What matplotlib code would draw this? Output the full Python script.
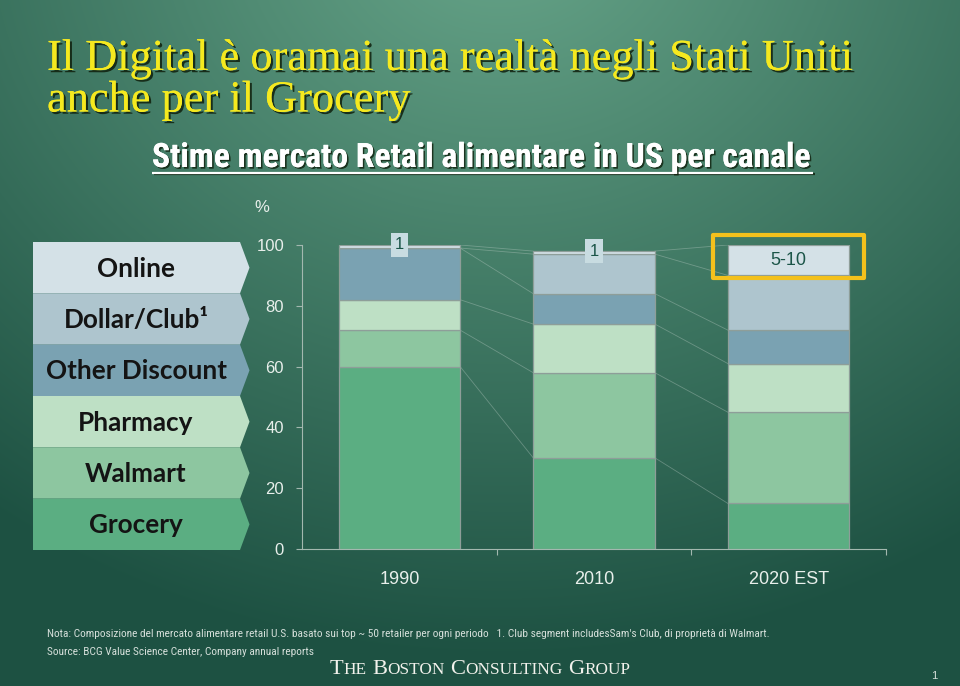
import numpy as np
import matplotlib
matplotlib.use('Agg')
import matplotlib.pyplot as plt
from matplotlib.patches import Polygon, Rectangle
import matplotlib.patheffects as pe

plt.rcParams['font.family'] = ['Liberation Sans', 'DejaVu Sans']

# ---------------- data ----------------
years = ['1990', '2010', '2020 EST']
grocery = [60, 30, 15]
walmart = [12, 28, 30]
pharmacy = [10, 16, 16]
other_discount = [17, 10, 11]
dollar_club = [0, 13, 18]
online = [1, 1, 10]
online_labels = ['1', '1', '5-10']
yticks = [0, 20, 40, 60, 80, 100]
legend_labels = ['Online', 'Dollar/Club¹', 'Other Discount', 'Pharmacy', 'Walmart', 'Grocery']

title_lines = ['Il Digital è oramai una realtà negli Stati Uniti', 'anche per il Grocery']
subtitle = 'Stime mercato Retail alimentare in US per canale'
note = ("Nota: Composizione del mercato alimentare retail U.S. basato sui top ~ 50 retailer per ogni periodo   "
        "1. Club segment includesSam's Club, di proprietà di Walmart.")
source = 'Source: BCG Value Science Center, Company annual reports'
logo_words = ['THE', 'BOSTON', 'CONSULTING', 'GROUP']

series = [grocery, walmart, pharmacy, other_discount, dollar_club, online]
seg_colors = ['#5BAE82', '#8DC6A0', '#BEE0C5', '#7AA2B2', '#AEC5CE', '#D4E1E7']
legend_colors = seg_colors[::-1]

W, H = 960, 686
fig = plt.figure(figsize=(9.6, 6.86), dpi=100)
R = fig.canvas.get_renderer()
COND = ['Liberation Sans Narrow', 'Roboto Condensed', 'Open Sans']


def fit(t, target):
    bb = t.get_window_extent(renderer=R)
    t.set_fontsize(t.get_fontsize() * target / bb.width)


# ---------------- background ----------------
bg = fig.add_axes([0, 0, 1, 1], zorder=0)
bg.set_xlim(0, W)
bg.set_ylim(H, 0)
bg.axis('off')
yy, xx = np.mgrid[0:H, 0:W]
d = np.sqrt((xx - 500.0) ** 2 + ((yy + 80.0) * 1.15) ** 2)
tt = np.clip(d / 850.0, 0, 1)[..., None]
c_light = np.array([0x68, 0xA6, 0x8A]) / 255
c_dark = np.array([0x1D, 0x51, 0x42]) / 255
img = c_light * (1 - tt) + c_dark * tt
bg.imshow(img, extent=(0, W, H, 0), aspect='auto', interpolation='bilinear', zorder=0)

# legend arrows
row_top, row_bot = 242.0, 550.0
rh = (row_bot - row_top) / len(legend_labels)
x_l, x_b, x_tip = 33, 240, 249.5
leg_texts = []
for k, (lab, col) in enumerate(zip(legend_labels, legend_colors)):
    y0 = row_top + k * rh
    y1 = y0 + rh
    bg.add_patch(Polygon([(x_l, y0), (x_b, y0), (x_tip, (y0 + y1) / 2), (x_b, y1), (x_l, y1)],
                         closed=True, fc=col, ec='none', zorder=2))
    leg_texts.append(bg.text(136, (y0 + y1) / 2 + 1, lab, family=['Lato', 'DejaVu Sans'],
                             weight='bold', fontsize=14, color='#141414', ha='center',
                             va='center', zorder=3))
fit(leg_texts[2], 182)
for t in leg_texts:
    t.set_fontsize(leg_texts[2].get_fontsize())

# ---------------- chart ----------------
ax = fig.add_axes([302 / W, (H - 549) / H, 584 / W, 304 / H], zorder=1)
ax.patch.set_alpha(0)
x = np.arange(len(years))
bw = 0.625
bottom = np.zeros(len(years))
tops = []
for vals, col in zip(series, seg_colors):
    ax.bar(x, vals, bw, bottom=bottom, color=col, edgecolor='#8E9E99', linewidth=0.9, zorder=3)
    bottom = bottom + np.array(vals, dtype=float)
    tops.append(bottom.copy())

for lvl in tops:
    for i in range(len(years) - 1):
        ax.plot([x[i] + bw / 2, x[i + 1] - bw / 2], [lvl[i], lvl[i + 1]],
                color='#C9D6D0', lw=0.6, alpha=0.35, zorder=2)

total = tops[-1]
for i, lab in enumerate(online_labels):
    if online[i] >= 5:
        ax.text(x[i], tops[-2][i] + online[i] / 2, lab, ha='center', va='center',
                fontsize=13, color='#1B5548', zorder=5)
        ax.add_patch(Rectangle((x[i] - bw / 2 - 0.075, tops[-2][i] - 1.0), bw + 0.15,
                               online[i] + 1.0 + 3.3, fill=False, ec='#F4C11C', lw=3,
                               clip_on=False, zorder=6, joinstyle='round'))
    else:
        ax.text(x[i], total[i], lab, ha='center', va='center', fontsize=12, color='#1B5548',
                bbox=dict(boxstyle='square,pad=0.25', fc='#C8DCE1', ec='none'),
                zorder=5, clip_on=False)

ax.set_xlim(-0.5, len(years) - 0.5)
ax.set_ylim(0, 100)
for s in ['top', 'right']:
    ax.spines[s].set_visible(False)
for s in ['left', 'bottom']:
    ax.spines[s].set_color('#A3B8AF')
    ax.spines[s].set_linewidth(0.8)
ax.set_yticks(yticks)
ax.tick_params(axis='y', length=4.3, width=0.8, color='#A3B8AF', labelcolor='#E8EFEB',
               labelsize=12, pad=8.6)
ax.set_xticks(x)
ax.set_xticklabels(years)
ax.set_xticks(list(x + 0.5), minor=True)
ax.tick_params(axis='x', which='major', length=0, labelcolor='#E8EFEB', labelsize=13, pad=15.5)
ax.tick_params(axis='x', which='minor', length=4.3, width=0.8, color='#A3B8AF')

# ---------------- overlay texts ----------------
ov = fig.add_axes([0, 0, 1, 1], zorder=3)
ov.set_xlim(0, W)
ov.set_ylim(H, 0)
ov.axis('off')
ov.patch.set_alpha(0)

shadow = [pe.withSimplePatchShadow(offset=(1.6, -1.6), shadow_rgbFace='#0f1f0c', alpha=0.85),
          pe.Normal()]
t1 = ov.text(47, 70, title_lines[0], family=['Liberation Serif'], fontsize=28, color='#F5E91F',
             ha='left', va='baseline', path_effects=shadow)
fit(t1, 806)
t2 = ov.text(47, 111.5, title_lines[1], family=['Liberation Serif'], fontsize=t1.get_fontsize(),
             color='#F5E91F', ha='left', va='baseline', path_effects=shadow)

sub_shadow = [pe.withSimplePatchShadow(offset=(1.2, -1.2), shadow_rgbFace='#0f1f0c', alpha=0.8),
              pe.Normal()]
sub = ov.text(482.5, 167, subtitle, family=COND,
              weight='bold', fontsize=17, color='white', ha='center', va='baseline',
              path_effects=sub_shadow)
fit(sub, 659)
bb = sub.get_window_extent(renderer=R)
inv = ov.transData.inverted()
(ux0, _), (ux1, _) = inv.transform([(bb.x0, 0), (bb.x1, 0)])
ov.plot([ux0, ux1], [172.5, 172.5], color='white', lw=1.6, solid_capstyle='butt',
        path_effects=[pe.SimpleLineShadow(offset=(1.2, -1.2), shadow_color='#0f1f0c', alpha=0.8),
                      pe.Normal()])

ov.text(262, 208, '%', ha='center', va='center', fontsize=12, color='#E8EFEB')

n1 = ov.text(47, 634, note, family=COND, fontsize=7,
             color='#D5DFDA', ha='left', va='center')
fit(n1, 731)
ov.text(47, 652, source, family=COND, fontsize=n1.get_fontsize(),
        color='#D5DFDA', ha='left', va='center')

# small-caps logo
big, small_ratio, gap_ratio = 16.6, 0.77, 0.25
pieces = []
prev = None
for wi, word in enumerate(logo_words):
    for part, sz in ((word[0], big), (word[1:], big * small_ratio)):
        if not part:
            continue
        if prev is None:
            a = ov.text(330, 673.6, part, family=['Liberation Serif'], fontsize=sz,
                        color='#F2F2EC', ha='left', va='baseline')
            gap = 0
        else:
            gap = big * gap_ratio if part == word[0] else 0
            a = ov.annotate(part, xy=(1, 673.6), xycoords=(prev, 'data'), xytext=(gap, 0),
                            textcoords='offset points', family=['Liberation Serif'], fontsize=sz,
                            color='#F2F2EC', ha='left', va='baseline')
        pieces.append((a, sz, gap))
        prev = a
fig.canvas.draw()
x0 = pieces[0][0].get_window_extent(renderer=R).x0
x1 = pieces[-1][0].get_window_extent(renderer=R).x1
scale = 301.0 / (x1 - x0)
for a, sz, gap in pieces:
    a.set_fontsize(sz * scale)
    if a is not pieces[0][0]:
        a.xyann = (gap * scale, 0)

ov.text(934, 676, '1', ha='center', va='center', fontsize=8, color='#D5DFDA')

fig.savefig('out.png', dpi=100)
